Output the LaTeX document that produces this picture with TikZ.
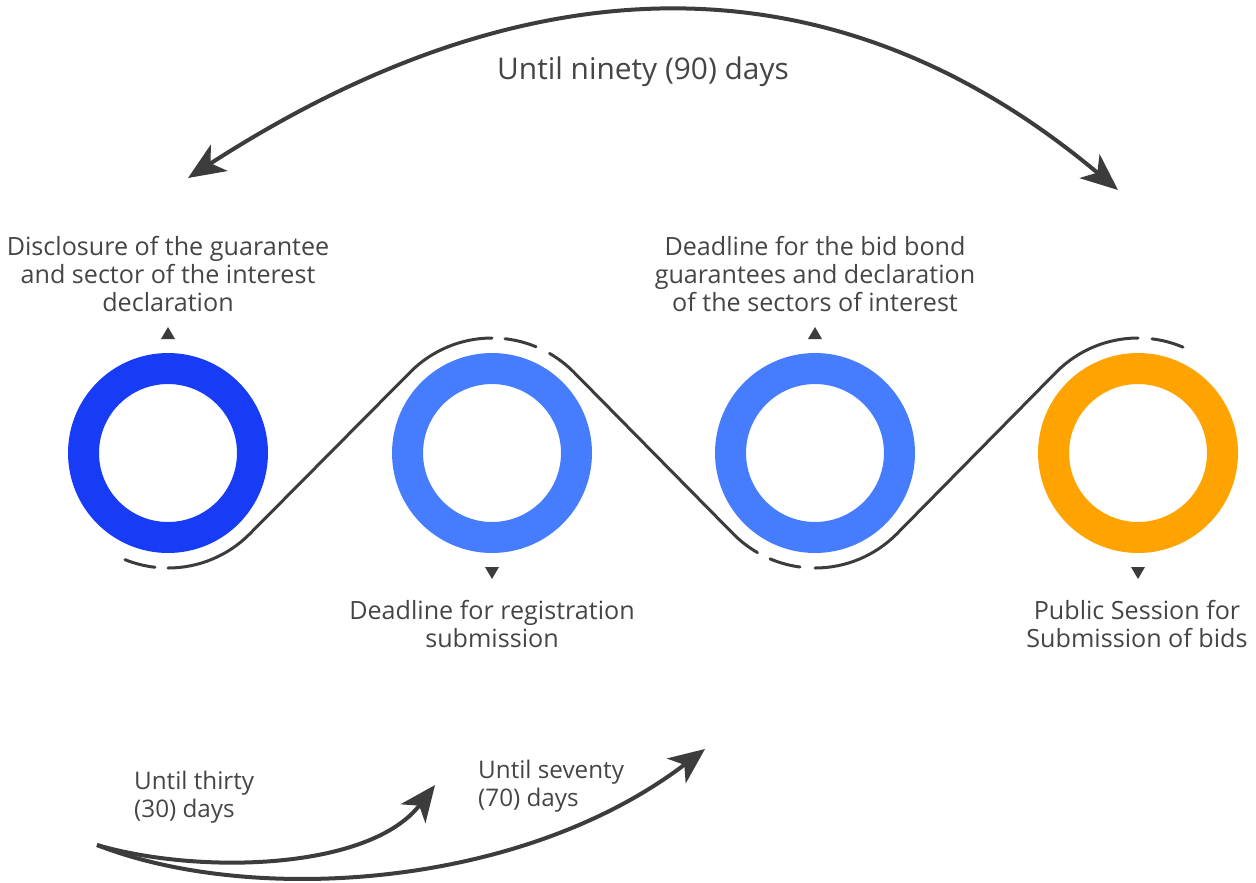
\documentclass[tikz,border=0pt]{standalone}
\usepackage{fontspec}
\setmainfont{Open Sans}
\usepackage{tikz}
\usetikzlibrary{arrows.meta,calc,positioning}
\definecolor{ringblau}{HTML}{183CF5}
\definecolor{hellblau}{HTML}{467DFF}
\definecolor{ringorange}{HTML}{FFA300}
\definecolor{grau}{HTML}{3C3C3C}
\definecolor{textgrau}{HTML}{454545}

\begin{document}
\begin{tikzpicture}[x=0.02cm,y=0.02cm,
  ring/.style={circle,draw=#1,line width=0.62cm,minimum size=3.38cm,inner sep=0pt},
  welle/.style={grau,line width=0.06cm,line cap=round},
  pfeil/.style={grau,line width=0.08cm,-{Stealth[length=0.72cm,width=0.62cm,inset=0.2cm]}},
  doppelpfeil/.style={grau,line width=0.08cm,{Stealth[length=0.74cm,width=0.62cm,inset=0.2cm]}-{Stealth[length=0.74cm,width=0.62cm,inset=0.2cm]}},
  txt/.style={text=textgrau,font=\fontsize{14.3}{16.2}\selectfont,align=center},
  marke/.style={fill=grau}]
\useasboundingbox (0,0) rectangle (1256,-882);
\pgfmathsetmacro{\Rw}{115}
%Ringe
\node[ring=ringblau] (k1) at (168,-453) {};
\node[ring=hellblau] (k2) at (492,-453) {};
\node[ring=hellblau] (k3) at (815,-453) {};
\node[ring=ringorange] (k4) at (1138,-453) {};
%Welle mit Luecken
\draw[welle] ([shift={(248:\Rw)}]k1.center) arc[start angle=248,end angle=263.5,radius=\Rw];
\draw[welle] ([shift={(270:\Rw)}]k1.center) arc[start angle=270,end angle=315,radius=\Rw]
  -- ([shift={(135:\Rw)}]k2.center) arc[start angle=135,end angle=90,radius=\Rw];
\draw[welle] ([shift={(83.5:\Rw)}]k2.center) arc[start angle=83.5,end angle=67.5,radius=\Rw];
\draw[welle] ([shift={(60:\Rw)}]k2.center) arc[start angle=60,end angle=45,radius=\Rw]
  -- ([shift={(225:\Rw)}]k3.center) arc[start angle=225,end angle=240,radius=\Rw];
\draw[welle] ([shift={(247:\Rw)}]k3.center) arc[start angle=247,end angle=262.5,radius=\Rw];
\draw[welle] ([shift={(270:\Rw)}]k3.center) arc[start angle=270,end angle=315,radius=\Rw]
  -- ([shift={(135:\Rw)}]k4.center) arc[start angle=135,end angle=90,radius=\Rw];
\draw[welle] ([shift={(83:\Rw)}]k4.center) arc[start angle=83,end angle=67,radius=\Rw];
%Marken
\foreach \k in {k1,k3}{
\fill[marke] ($(\k.center)+(-7,114)$) -- ++(14,0) -- ++(-7,12) -- cycle;
}
\foreach \k in {k2,k4}{
\fill[marke] ($(\k.center)+(-7,-114)$) -- ++(14,0) -- ++(-7,-12) -- cycle;
}
%Beschriftung
\node[txt] (t1) at (168,-274) {Disclosure of the guarantee\\and sector of the interest\\declaration};
\node[txt] (t2) at (492,-624) {Deadline for registration\\submission};
\node[txt] (t3) at (815,-274) {Deadline for the bid bond\\guarantees and declaration\\of the sectors of interest};
\node[txt] (t4) at (1137,-624) {Public Session for\\Submission of bids};
%Fristen
\coordinate (pl) at (188,-178);
\coordinate (pr) at (1118,-190);
\draw[doppelpfeil] (pl) .. controls (510,30) and (820,60) .. (pr);
\node[txt,font=\fontsize{17}{20}\selectfont] (t90) at (643,-72) {Until ninety (90) days};
\coordinate (start) at (97,-845);
\coordinate (z30) at (435,-785);
\coordinate (z70) at (705,-749);
\draw[pfeil] (start) .. controls (200,-875) and (370,-870) .. (z30);
\draw[pfeil] (start) .. controls (250,-905) and (520,-890) .. (z70);
\node[txt,align=left,anchor=west,font=\fontsize{13.8}{16.2}\selectfont] (t30) at (128,-797) {Until thirty\\(30) days};
\node[txt,align=left,anchor=west,font=\fontsize{13.8}{16.2}\selectfont] (t70) at (472,-786) {Until seventy\\(70) days};
\end{tikzpicture}
\end{document}
